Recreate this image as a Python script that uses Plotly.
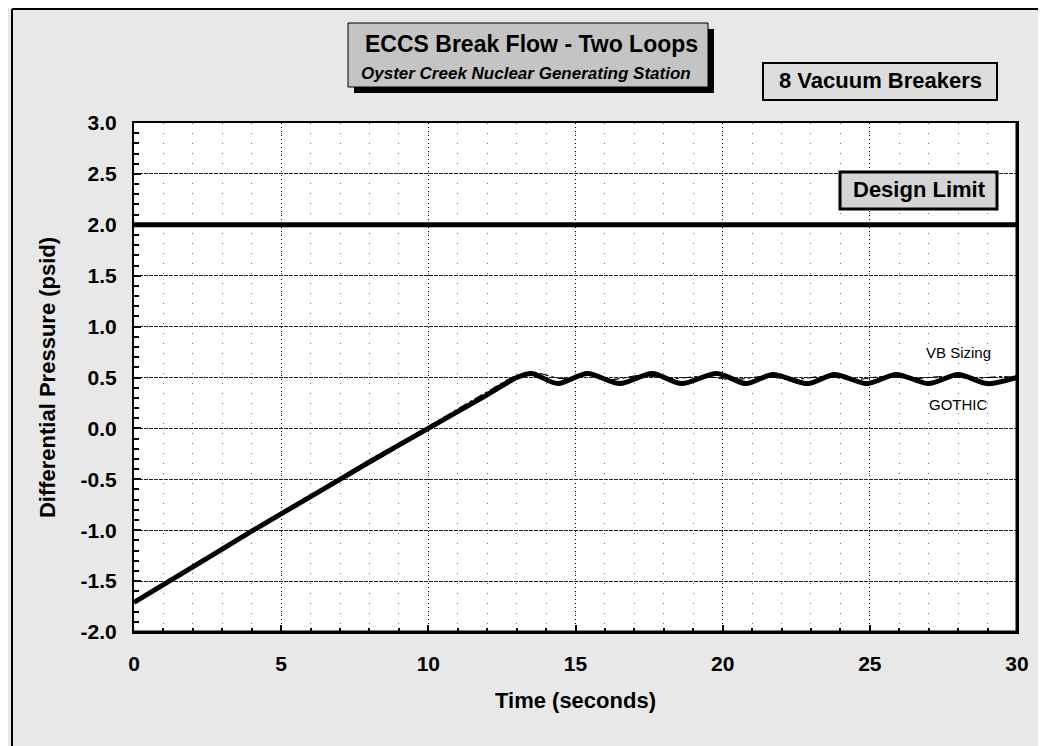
import plotly.graph_objects as go

# ---------------- data ----------------
gothic_t = [0, 2, 4, 6, 8, 10, 12, 13.0, 13.5, 14.4, 15.4, 16.5, 17.6, 18.6, 19.8,
            20.8, 21.7, 22.9, 23.8, 24.9, 25.9, 27.0, 28.0, 29.0, 30.0]
gothic_p = [-1.71, -1.36, -1.01, -0.67, -0.33, 0.0, 0.33, 0.50, 0.54, 0.44, 0.54, 0.44,
            0.54, 0.44, 0.54, 0.44, 0.53, 0.44, 0.53, 0.44, 0.53, 0.44, 0.53, 0.44, 0.50]

vb_t = [0, 2, 4, 6, 8, 10, 12, 13.0, 13.6, 14.5, 15.5, 16.2, 17.2, 18.3, 19.3, 20.4,
        21.4, 22.4, 23.4, 24.5, 25.5, 26.5, 27.5, 28.5, 29.5, 30.0]
vb_p = [-1.70, -1.35, -1.00, -0.66, -0.31, 0.02, 0.36, 0.52, 0.55, 0.49, 0.52, 0.48,
        0.52, 0.49, 0.51, 0.48, 0.51, 0.48, 0.51, 0.48, 0.51, 0.49, 0.51, 0.49, 0.51, 0.50]

design_limit_t = [0, 30]
design_limit_p = [2.0, 2.0]

x_tick_vals = [0, 5, 10, 15, 20, 25, 30]
x_tick_text = ["0", "5", "10", "15", "20", "25", "30"]
y_tick_vals = [-2.0, -1.5, -1.0, -0.5, 0.0, 0.5, 1.0, 1.5, 2.0, 2.5, 3.0]
y_tick_text = ["-2.0", "-1.5", "-1.0", "-0.5", "0.0", "0.5", "1.0", "1.5", "2.0", "2.5", "3.0"]

title_text = "ECCS Break Flow - Two Loops"
subtitle_text = "Oyster Creek Nuclear Generating Station"
case_text = "8 Vacuum Breakers"
limit_text = "Design Limit"
x_title = "Time (seconds)"
y_title = "Differential Pressure (psid)"

# ---------------- layout helpers ----------------
W, H = 1046, 746
OFF = 8                      # page offset of the plot div
L, R, T, B = 134, 1017, 123, 632   # plot area in page pixels
PW, PH = R - L, B - T


def px(x):
    return (x - L) / PW


def py(y):
    return (B - y) / PH


FONT = "Liberation Sans, Arial, Helvetica, sans-serif"

fig = go.Figure()

fig.add_trace(go.Scatter(x=design_limit_t, y=design_limit_p, mode="lines",
                         line=dict(color="black", width=5), showlegend=False,
                         hoverinfo="skip"))
fig.add_trace(go.Scatter(x=vb_t, y=vb_p, mode="lines", name="VB Sizing",
                         line=dict(color="black", width=1.2, dash="dashdot", shape="spline",
                                   smoothing=0.8), showlegend=False))
fig.add_trace(go.Scatter(x=gothic_t, y=gothic_p, mode="lines", name="GOTHIC",
                         line=dict(color="black", width=5, shape="spline", smoothing=0.8),
                         showlegend=False))

shapes = []
# page frame (left and top edges)
shapes.append(dict(type="line", xref="paper", yref="paper", x0=px(12), x1=px(W + 20),
                   y0=py(9), y1=py(9), line=dict(color="black", width=2)))
shapes.append(dict(type="line", xref="paper", yref="paper", x0=px(12), x1=px(12),
                   y0=py(9), y1=py(H + 20), line=dict(color="black", width=2)))
# heavier bottom and right axis frame
shapes.append(dict(type="line", xref="paper", yref="paper", x0=0, x1=1, y0=0, y1=0,
                   line=dict(color="black", width=3)))
shapes.append(dict(type="line", xref="paper", yref="paper", x0=1, x1=1, y0=0, y1=1,
                   line=dict(color="black", width=3)))
# title box with shadow
shapes.append(dict(type="rect", xref="paper", yref="paper", x0=px(354), x1=px(714),
                   y0=py(93), y1=py(29), fillcolor="black", line=dict(width=0)))
shapes.append(dict(type="rect", xref="paper", yref="paper", x0=px(348), x1=px(708),
                   y0=py(87), y1=py(23), fillcolor="#c4c4c4", line=dict(color="black", width=1)))
# vacuum breakers box
shapes.append(dict(type="rect", xref="paper", yref="paper", x0=px(763), x1=px(997),
                   y0=py(100), y1=py(63), fillcolor="#dcdcdc", line=dict(color="black", width=2)))
# design limit box
shapes.append(dict(type="rect", xref="paper", yref="paper", x0=px(840), x1=px(997),
                   y0=py(209), y1=py(172), fillcolor="#d4d4d4", line=dict(color="black", width=3)))

annotations = [
    dict(text="<b>" + title_text + "</b>", xref="paper", yref="paper", x=px(531), y=py(44),
         showarrow=False, font=dict(family=FONT, size=23, color="black"),
         xanchor="center", yanchor="middle"),
    dict(text="<b><i>" + subtitle_text + "</i></b>", xref="paper", yref="paper", x=px(526),
         y=py(73), showarrow=False, font=dict(family=FONT, size=17, color="black"),
         xanchor="center", yanchor="middle"),
    dict(text="<b>" + case_text + "</b>", xref="paper", yref="paper", x=px(880), y=py(81),
         showarrow=False, font=dict(family=FONT, size=22, color="black"),
         xanchor="center", yanchor="middle"),
    dict(text="<b>" + limit_text + "</b>", xref="paper", yref="paper", x=px(919), y=py(190),
         showarrow=False, font=dict(family=FONT, size=22, color="black"),
         xanchor="center", yanchor="middle"),
    dict(text="VB Sizing", x=28.0, y=0.75, showarrow=False,
         font=dict(family=FONT, size=15, color="black"), xanchor="center", yanchor="middle"),
    dict(text="GOTHIC", x=28.0, y=0.23, showarrow=False,
         font=dict(family=FONT, size=15, color="black"), xanchor="center", yanchor="middle"),
]

fig.update_layout(
    width=W, height=H, autosize=False,
    margin=dict(l=L - OFF, r=W - R + OFF, t=T - OFF, b=H - B + OFF, pad=0),
    paper_bgcolor="#e8e8e8", plot_bgcolor="white",
    font=dict(family=FONT, color="black"),
    shapes=shapes, annotations=annotations,
    xaxis=dict(
        range=[0, 30], tickmode="array", tickvals=x_tick_vals, ticktext=x_tick_text,
        ticks="inside", ticklen=7, tickwidth=2, tickcolor="black",
        tickfont=dict(family=FONT, size=21, weight="bold", color="black"),
        ticklabelstandoff=12,
        showgrid=True, gridcolor="black", gridwidth=1, griddash="1px,3px",
        minor=dict(dtick=1, tick0=0, ticks="inside", ticklen=4, tickwidth=1.5,
                   tickcolor="black", showgrid=True, gridcolor="#6a6a6a",
                   gridwidth=1, griddash="1px,9px"),
        showline=True, linecolor="black", linewidth=2, mirror=True, zeroline=False,
        title=dict(text=x_title, font=dict(family=FONT, size=22, weight="bold", color="black"),
                   standoff=18),
    ),
    yaxis=dict(
        range=[-2, 3], tickmode="array", tickvals=y_tick_vals, ticktext=y_tick_text,
        ticks="inside", ticklen=7, tickwidth=2, tickcolor="black",
        tickfont=dict(family=FONT, size=21, weight="bold", color="black"),
        ticklabelstandoff=11,
        showgrid=True, gridcolor="#222222", gridwidth=1, griddash="4px,1px",
        minor=dict(dtick=0.1, tick0=0, ticks="inside", ticklen=5, tickwidth=1.5,
                   tickcolor="black", showgrid=False),
        showline=True, linecolor="black", linewidth=2, mirror=True, zeroline=False,
        title=dict(text=y_title, font=dict(family=FONT, size=22, weight="bold", color="black"),
                   standoff=19),
    ),
)

fig.write_html("out.html")
